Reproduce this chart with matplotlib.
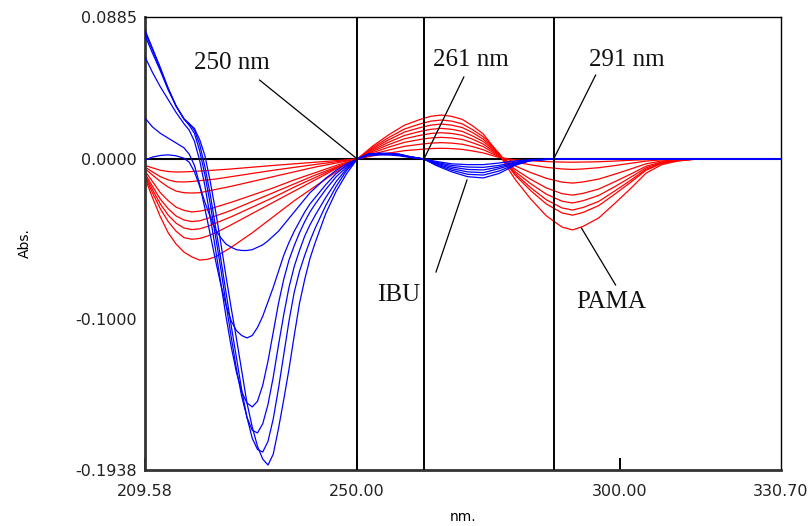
import numpy as np
import matplotlib
matplotlib.use("Agg")
import matplotlib.pyplot as plt

# wavelength grids (nm)
blue_nm = [209.58, 211, 212.5, 214, 215.5, 217, 218, 219, 220, 221, 222, 223, 224, 225, 226, 227,
           228, 229, 230, 231, 232, 233, 234, 235, 236, 237, 238, 239, 240, 241, 242, 244, 246,
           248, 250, 252, 254, 256, 258, 260, 262.7, 265, 268, 271, 274, 277, 280, 283, 286, 289,
           330.70]
red_nm = [209.58, 211, 212.5, 214, 215.5, 217, 218.5, 220, 221.5, 223, 226, 230, 234, 238, 242,
          246, 250, 253, 256, 259, 262, 264, 266, 268, 270, 272, 274, 277, 280, 283, 286, 289,
          291, 293, 296, 299, 302, 305, 308, 311, 314, 330.70]

# IBU derivative spectra (blue)
ibu_1 = [-0.0006, 0.0012, 0.0022, 0.0026, 0.002, 0.0005, -0.002, -0.008, -0.017, -0.027, -0.036,
         -0.044, -0.049, -0.053, -0.055, -0.0565, -0.057, -0.057, -0.0565, -0.055, -0.0535, -0.051,
         -0.048, -0.045, -0.041, -0.037, -0.033, -0.029, -0.025, -0.021, -0.018, -0.012, -0.007,
         -0.003, 0.0, 0.002, 0.0025, 0.0025, 0.002, 0.001, 0.0, -0.0015, -0.003, -0.0035, -0.0035,
         -0.0025, -0.0012, -0.0004, 0.0, 0.0, 0.0]
ibu_2 = [0.0255, 0.020, 0.016, 0.013, 0.010, 0.007, 0.003, -0.004, -0.016, -0.031, -0.047, -0.063,
         -0.078, -0.091, -0.101, -0.107, -0.110, -0.1115, -0.110, -0.105, -0.098, -0.089, -0.080,
         -0.070, -0.060, -0.052, -0.045, -0.039, -0.033, -0.028, -0.024, -0.016, -0.009, -0.004,
         0.0, 0.0025, 0.003, 0.003, 0.0025, 0.0012, 0.0, -0.002, -0.004, -0.005, -0.0052, -0.004,
         -0.002, -0.0006, -0.0001, 0.0, 0.0]
ibu_3 = [0.0636, 0.054, 0.045, 0.037, 0.029, 0.022, 0.018, 0.011, -0.001, -0.017, -0.036, -0.056,
         -0.077, -0.098, -0.117, -0.133, -0.145, -0.152, -0.1545, -0.151, -0.141, -0.126, -0.108,
         -0.090, -0.075, -0.063, -0.054, -0.046, -0.039, -0.033, -0.028, -0.019, -0.011, -0.005,
         0.0, 0.0028, 0.0033, 0.0032, 0.0027, 0.0013, 0.0, -0.0025, -0.005, -0.0065, -0.0068,
         -0.005, -0.0025, -0.0008, -0.0002, 0.0, 0.0]
ibu_4 = [0.077, 0.066, 0.055, 0.043, 0.033, 0.025, 0.021, 0.016, 0.005, -0.010, -0.028, -0.048,
         -0.068, -0.090, -0.111, -0.131, -0.148, -0.161, -0.169, -0.1707, -0.165, -0.153, -0.136,
         -0.116, -0.097, -0.080, -0.067, -0.057, -0.048, -0.041, -0.035, -0.024, -0.014, -0.006,
         0.0, 0.003, 0.0035, 0.0033, 0.0028, 0.0014, 0.0, -0.003, -0.006, -0.008, -0.0085, -0.006,
         -0.003, -0.001, -0.0002, 0.0, 0.0]
ibu_5 = [0.079, 0.068, 0.056, 0.044, 0.033, 0.025, 0.022, 0.018, 0.009, -0.005, -0.022, -0.042,
         -0.062, -0.083, -0.104, -0.124, -0.144, -0.161, -0.174, -0.181, -0.1826, -0.176, -0.162,
         -0.143, -0.122, -0.101, -0.083, -0.070, -0.060, -0.051, -0.043, -0.029, -0.017, -0.007,
         0.0, 0.003, 0.0035, 0.0035, 0.003, 0.0015, 0.0, -0.0035, -0.007, -0.0095, -0.010,
         -0.0075, -0.0035, -0.001, -0.0003, 0.0, 0.0]
ibu_6 = [0.0804, 0.069, 0.057, 0.044, 0.033, 0.025, 0.022, 0.019, 0.012, 0.002, -0.014, -0.032,
         -0.052, -0.073, -0.093, -0.112, -0.132, -0.152, -0.167, -0.179, -0.187, -0.1907, -0.184,
         -0.168, -0.150, -0.131, -0.110, -0.090, -0.075, -0.062, -0.052, -0.034, -0.020, -0.009,
         0.0, 0.003, 0.0035, 0.0035, 0.003, 0.0015, 0.0, -0.004, -0.008, -0.011, -0.0118, -0.009,
         -0.004, -0.001, -0.0003, 0.0, 0.0]

# PAMA derivative spectra (red)
pama_1 = [-0.004, -0.0055, -0.007, -0.0078, -0.0081, -0.008, -0.0078, -0.0075, -0.0072, -0.0069,
          -0.0062, -0.0051, -0.004, -0.003, -0.002, -0.001, 0.0, 0.002, 0.0037, 0.0052, 0.006,
          0.0065, 0.0067, 0.0065, 0.006, 0.005, 0.0038, 0.001, -0.0006, -0.0011, -0.0016, -0.0019,
          -0.002, -0.0019, -0.0017, -0.0013, -0.0008, -0.0004, -0.0002, 0.0, 0.0, 0.0]
pama_2 = [-0.005, -0.008, -0.011, -0.013, -0.0142, -0.0143, -0.014, -0.0135, -0.013, -0.0125,
          -0.011, -0.009, -0.007, -0.0052, -0.0034, -0.0017, 0.0, 0.0031, 0.0056, 0.0079, 0.0092,
          0.0099, 0.0102, 0.0099, 0.0092, 0.0077, 0.0058, 0.0015, -0.0018, -0.0036, -0.0052,
          -0.0062, -0.0065, -0.0062, -0.0054, -0.0041, -0.0027, -0.0013, -0.0005, -0.0002, 0.0, 0.0]
pama_3 = [-0.006, -0.010, -0.014, -0.0175, -0.020, -0.021, -0.0212, -0.021, -0.020, -0.019,
          -0.017, -0.014, -0.011, -0.008, -0.005, -0.0025, 0.0, 0.004, 0.0074, 0.0104, 0.0122,
          0.0131, 0.0135, 0.0131, 0.0122, 0.0101, 0.0077, 0.002, -0.0042, -0.0084, -0.012,
          -0.0144, -0.015, -0.0143, -0.0125, -0.0095, -0.0063, -0.003, -0.0012, -0.0005, 0.0, 0.0]
pama_4 = [-0.0075, -0.014, -0.021, -0.026, -0.030, -0.032, -0.033, -0.0325, -0.0315, -0.030,
          -0.027, -0.0225, -0.018, -0.013, -0.0085, -0.004, 0.0, 0.0049, 0.009, 0.0126, 0.0148,
          0.0159, 0.0164, 0.0159, 0.0148, 0.0123, 0.0093, 0.0025, -0.0063, -0.0126, -0.018,
          -0.0216, -0.0225, -0.0214, -0.0187, -0.0142, -0.0095, -0.0045, -0.0018, -0.0007, -0.0001,
          0.0]
pama_5 = [-0.009, -0.017, -0.025, -0.031, -0.0355, -0.038, -0.039, -0.0385, -0.037, -0.0355,
          -0.032, -0.0265, -0.021, -0.0155, -0.010, -0.005, 0.0, 0.0057, 0.0105, 0.0147, 0.0172,
          0.0185, 0.0191, 0.0185, 0.0172, 0.0143, 0.0109, 0.0029, -0.0077, -0.0153, -0.0219,
          -0.0263, -0.0274, -0.026, -0.0227, -0.0173, -0.0115, -0.0055, -0.0022, -0.0008, -0.0001,
          0.0]
pama_6 = [-0.010, -0.019, -0.028, -0.035, -0.040, -0.043, -0.044, -0.0435, -0.042, -0.040,
          -0.036, -0.030, -0.024, -0.0175, -0.0115, -0.0055, 0.0, 0.0065, 0.012, 0.0168, 0.0196,
          0.0211, 0.0218, 0.0211, 0.0196, 0.0164, 0.0124, 0.0033, -0.0089, -0.0178, -0.0254,
          -0.0305, -0.0318, -0.0302, -0.0264, -0.020, -0.0134, -0.0064, -0.0025, -0.001, -0.0002,
          0.0]
pama_7 = [-0.011, -0.021, -0.031, -0.039, -0.045, -0.049, -0.050, -0.0495, -0.048, -0.046,
          -0.041, -0.034, -0.027, -0.020, -0.013, -0.006, 0.0, 0.0073, 0.0134, 0.0187, 0.0219,
          0.0236, 0.0243, 0.0236, 0.0219, 0.0182, 0.0139, 0.0036, -0.0098, -0.0196, -0.028,
          -0.0336, -0.035, -0.0333, -0.029, -0.022, -0.0147, -0.007, -0.0028, -0.001, -0.0002, 0.0]
pama_8 = [-0.012, -0.024, -0.036, -0.046, -0.053, -0.058, -0.061, -0.063, -0.0625, -0.061,
          -0.055, -0.046, -0.036, -0.026, -0.017, -0.008, 0.0, 0.0082, 0.0151, 0.0211, 0.0247,
          0.0266, 0.0274, 0.0266, 0.0247, 0.0206, 0.0156, 0.0030, -0.0124, -0.0248, -0.0354,
          -0.0424, -0.0442, -0.0420, -0.0367, -0.0278, -0.0186, -0.0088, -0.0035, -0.0013,
          -0.0002, 0.0]

ibu = [ibu_1, ibu_2, ibu_3, ibu_4, ibu_5, ibu_6]
pama = [pama_1, pama_2, pama_3, pama_4, pama_5, pama_6, pama_7, pama_8]

# zero-crossing wavelengths used for the measurement
zc_lines = [250.0, 262.7, 287.4]

xticks = [209.58, 250.00, 300.00, 330.70]
yticks = [0.0885, 0.0, -0.1, -0.1938]

fig = plt.figure(figsize=(8.1, 5.26), dpi=100)
ax = fig.add_axes([145 / 810, 1 - 470 / 526, 636 / 810, 453 / 526])

ax.axhline(0, color="black", lw=1.5, zorder=1)
for y in pama:
    ax.plot(red_nm, y, color="#ff0000", lw=0.9, zorder=2)
for y in ibu:
    ax.plot(blue_nm, y, color="#0000ff", lw=0.9, zorder=3)
for x in zc_lines:
    ax.axvline(x, color="black", lw=1.4, zorder=4)

ax.set_xlim(209.58, 330.70)
ax.set_ylim(-0.1938, 0.0885)

ax.set_xticks(xticks)
ax.set_xticklabels(["%.2f" % v for v in xticks])
ax.set_yticks(yticks)
ax.set_yticklabels(["%.4f" % v for v in yticks])
ax.tick_params(axis="x", direction="in", length=9, width=1.4, pad=10, labelsize=11.5)
ax.tick_params(axis="y", length=0, pad=6, labelsize=11.5)
ax.xaxis.get_major_ticks()[-1].tick1line.set_visible(False)
for lab in ax.get_xticklabels() + ax.get_yticklabels():
    lab.set_family("DejaVu Sans")
    lab.set_color("#222222")

for s in ["left", "bottom"]:
    ax.spines[s].set_linewidth(2.0)
    ax.spines[s].set_color("#333333")
for s in ["top", "right"]:
    ax.spines[s].set_linewidth(1.0)

ax.set_xlabel("nm.", fontsize=10, labelpad=8)
fig.text(25 / 810, 1 - 243 / 526, "Abs.", rotation=90, fontsize=10, ha="center", va="center")

# labels with leader lines
serif = "Liberation Serif"
notes = [
    ("250 nm", (226.1, 0.0598), (231.4, 0.0492), (250.0, 0.0)),
    ("261 nm", (271.7, 0.0617), (270.3, 0.0511), (262.7, 0.0)),
    ("291 nm", (301.3, 0.0617), (295.4, 0.0523), (287.4, 0.0)),
    ("IBU", (257.8, -0.0848), (265.0, -0.0704), (270.9, -0.0131)),
    ("PAMA", (298.4, -0.0891), (299.2, -0.0785), (292.7, -0.043)),
]
for text, pos, p0, p1 in notes:
    ax.text(pos[0], pos[1], text, family=serif, fontsize=18, ha="center", va="center",
            color="#111111", zorder=6)
    ax.plot([p0[0], p1[0]], [p0[1], p1[1]], color="black", lw=0.9, zorder=5)

fig.savefig("out.png", dpi=100)
